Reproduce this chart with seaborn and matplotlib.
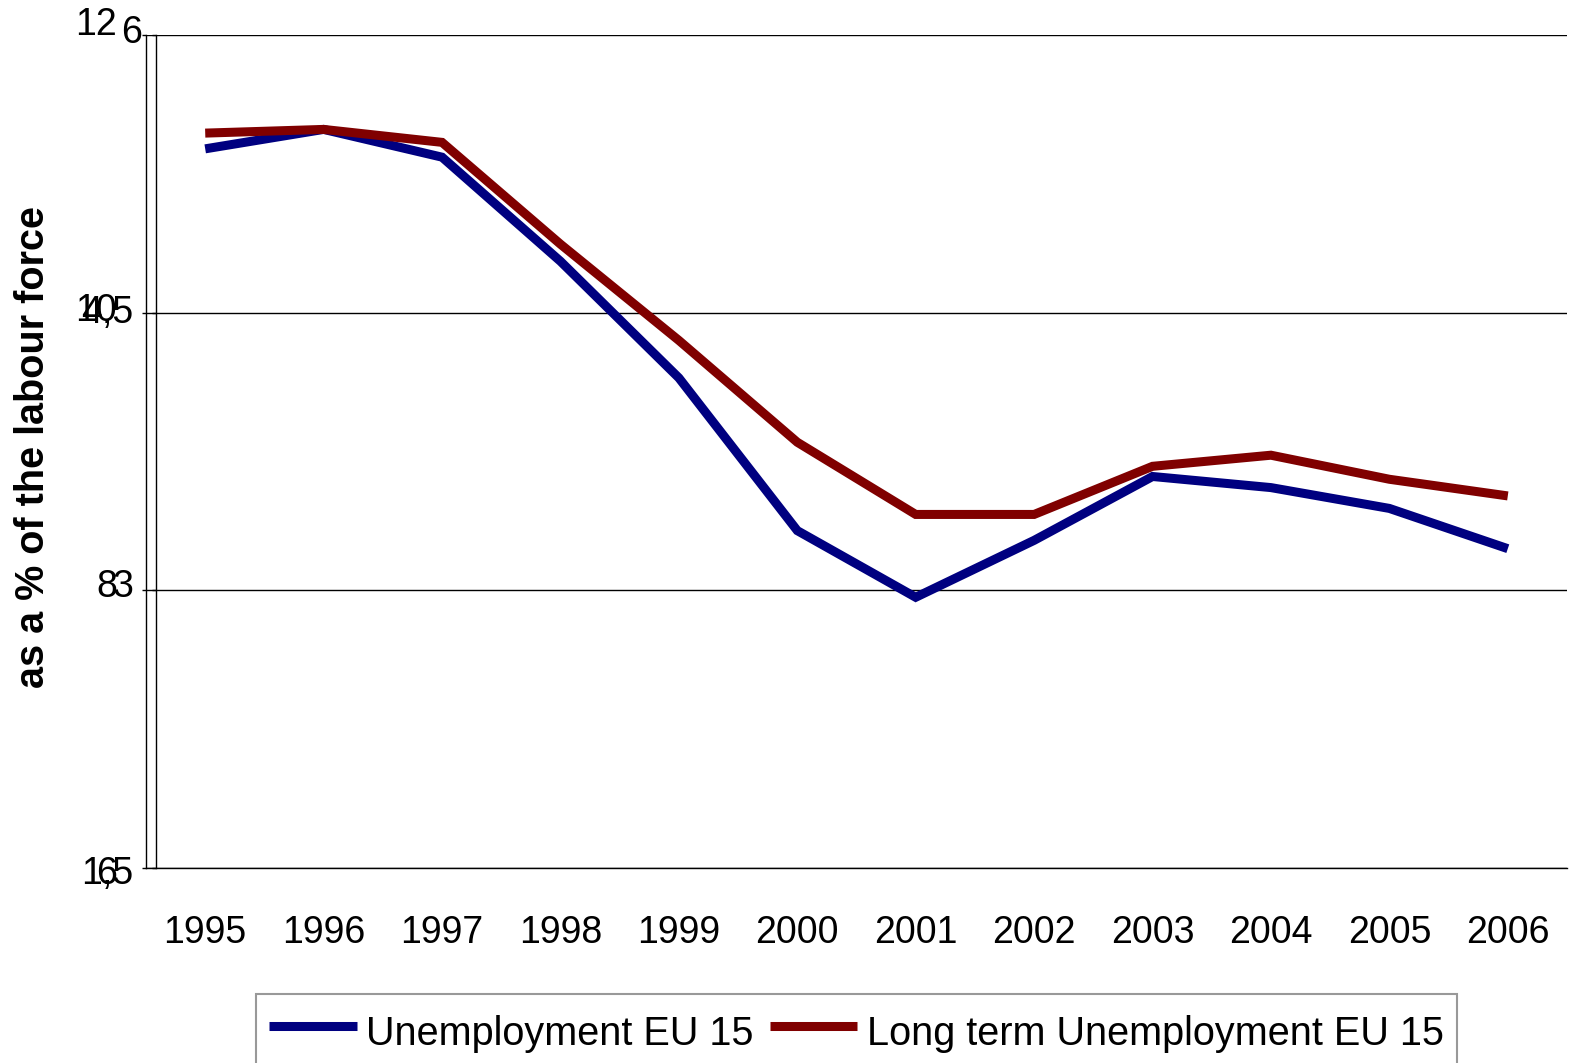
import numpy as np
import pandas as pd
import matplotlib
matplotlib.use("Agg")
import matplotlib.pyplot as plt
import matplotlib.transforms as mtransforms
import seaborn as sns

# data
years = [1995, 1996, 1997, 1998, 1999, 2000, 2001, 2002, 2003, 2004, 2005, 2006]
unemployment = [11.18, 11.32, 11.12, 10.37, 9.53, 8.43, 7.95, 8.36, 8.82, 8.74, 8.59, 8.30]
long_term = [5.47, 5.49, 5.42, 4.87, 4.35, 3.80, 3.41, 3.41, 3.67, 3.73, 3.60, 3.51]

left_ticks = [6, 8, 10, 12]
left_labels = ["6", "8", "10", "12"]
right_ticks = [1.5, 3, 4.5, 6]
right_labels = ["1,5", "3", "4,5", "6"]

sns.set_style("white")
plt.rcParams["font.family"] = ["Liberation Sans", "DejaVu Sans"]
plt.rcParams["text.color"] = "black"
plt.rcParams["xtick.labelcolor"] = "black"
plt.rcParams["ytick.labelcolor"] = "black"

W, H = 1573, 1063
fig = plt.figure(figsize=(W / 100, H / 100), dpi=100)
x0, x1, y0, y1 = 146, 1567, 35, 868
ax = fig.add_axes([x0 / W, 1 - y1 / H, (x1 - x0) / W, (y1 - y0) / H])

df = pd.DataFrame({"year": years, "unemp": unemployment, "lt": long_term})

sns.lineplot(data=df, x="year", y="unemp", ax=ax, color="#000080", lw=6.5,
             label="Unemployment EU 15", legend=False)
for ln in ax.lines:
    ln.set_solid_capstyle("butt")
    ln.set_solid_joinstyle("miter")

ax2 = ax.twinx()
sns.lineplot(data=df, x="year", y="lt", ax=ax2, color="#800000", lw=6.5,
             label="Long term Unemployment EU 15", legend=False)
for ln in ax2.lines:
    ln.set_solid_capstyle("butt")
    ln.set_solid_joinstyle("miter")

# x axis: ticks between categories, labels at centres
ax.set_xlim(1994.5, 2006.5)
ax.set_xticks(np.arange(1995.5, 2007, 1.0))
ax.set_xticklabels([])
ax.set_xticks(years, minor=True)
ax.set_xticklabels([str(y) for y in years], minor=True)
ax.tick_params(axis="x", which="major", length=8.6, width=1.3, color="#808080", direction="out")
ax.tick_params(axis="x", which="minor", length=0, pad=33.5, labelsize=27, labelcolor="black")
ax.set_xlabel("")

# primary y axis (6-12)
ax.set_ylim(6, 12)
ax.set_yticks(left_ticks)
ax.set_yticklabels(left_labels)
ax.tick_params(axis="y", length=3, width=1, color="black", pad=18, labelsize=27,
               labelcolor="black", left=True)
ax.set_ylabel("")
ax.yaxis.grid(True, color="black", lw=1)
ax.set_axisbelow(True)

# secondary y axis (1.5-6), also on the left, slightly inside
ax2.set_ylim(1.5, 6)
ax2.set_yticks(right_ticks)
ax2.set_yticklabels(right_labels)
ax2.yaxis.set_ticks_position("left")
ax2.yaxis.set_label_position("left")
ax2.spines["left"].set_visible(True)
ax2.spines["left"].set_position(("axes", 10 / (x1 - x0)))
ax2.tick_params(axis="y", length=3, width=1, color="black", pad=13.5, labelsize=27,
                labelcolor="black")
ax2.set_ylabel("")

# small label offsets as in the original (pixels: dx, dy up)
left_shift = [(0, -2), (0, 7), (0, 6), (0, 14)]
right_shift = [(0, -2), (0, 7), (0, 4), (9, 6)]
for a, shifts in ((ax, left_shift), (ax2, right_shift)):
    for lab, (dx, dy) in zip(a.get_yticklabels(), shifts):
        off = mtransforms.ScaledTranslation(dx / 100, dy / 100, fig.dpi_scale_trans)
        lab.set_transform(lab.get_transform() + off)

for a in (ax, ax2):
    for side in ("top", "right"):
        a.spines[side].set_visible(False)
ax2.spines["bottom"].set_visible(False)
for sp in (ax.spines["left"], ax.spines["bottom"], ax2.spines["left"]):
    sp.set_color("black")
    sp.set_linewidth(1)

fig.text(33 / W, 1 - 447 / H, "as a % of the labour force", rotation=90,
         fontsize=28.5, fontweight="bold", ha="center", va="center", color="black")

handles = ax.lines[:1] + ax2.lines[:1]
labels = ["Unemployment EU 15", "Long term Unemployment EU 15"]
leg = fig.legend(handles, labels, loc="upper left", bbox_to_anchor=(256 / W, 1 - 994 / H),
                 ncol=2, frameon=True, fancybox=False, shadow=False, edgecolor="#808080",
                 fontsize=28.5, borderpad=0.34, handlelength=2.2, handleheight=1.55,
                 handletextpad=0.24, columnspacing=0.42, borderaxespad=0)
leg.get_frame().set_linewidth(1.5)
for t in leg.get_texts():
    t.set_color("black")

fig.savefig("out.png", dpi=100)
